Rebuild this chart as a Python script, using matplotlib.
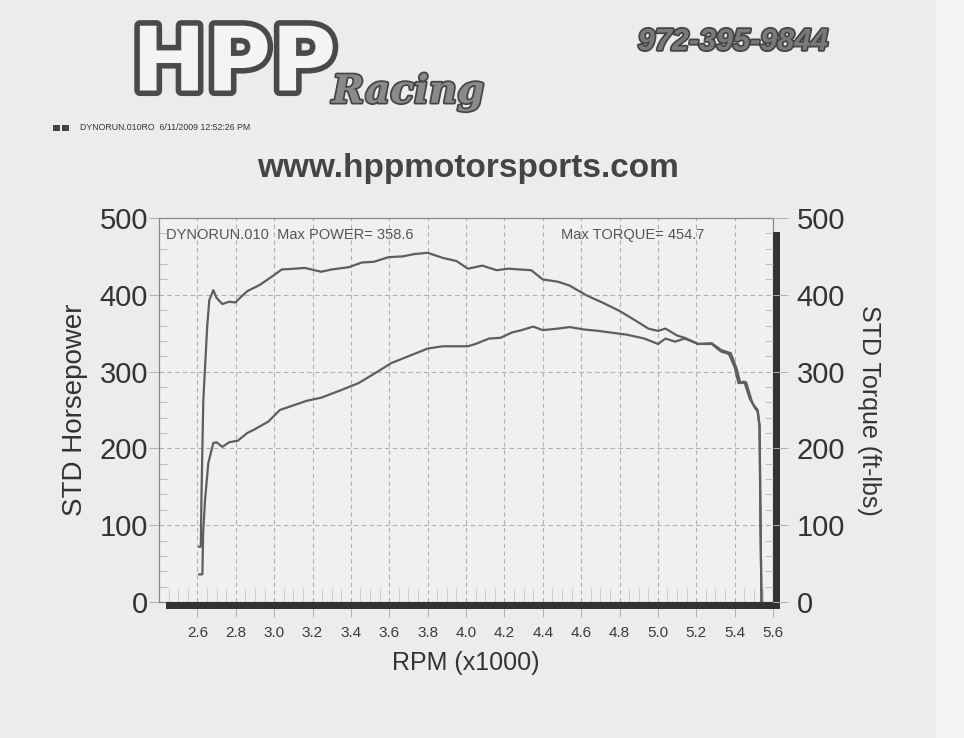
import numpy as np
import matplotlib
matplotlib.use("Agg")
import matplotlib.pyplot as plt
import matplotlib.patheffects as pe
from matplotlib.patches import Rectangle

# torque curve (ft-lbs) read from the dyno sheet
rpm_torque = [2.610, 2.618, 2.621, 2.631, 2.651, 2.662, 2.683, 2.700, 2.730, 2.766,
              2.798, 2.830, 2.862, 2.926, 2.990, 3.040, 3.106, 3.160, 3.245, 3.300,
              3.390, 3.457, 3.520, 3.596, 3.670, 3.730, 3.800, 3.820, 3.880, 3.950,
              4.010, 4.085, 4.160, 4.220, 4.280, 4.340, 4.400, 4.480, 4.540, 4.630,
              4.710, 4.800, 4.880, 4.950, 5.000, 5.040, 5.100, 5.140, 5.210, 5.280,
              5.330, 5.370, 5.400, 5.420, 5.450, 5.480, 5.500, 5.520, 5.530, 5.535, 5.540]
torque = [72, 72, 133, 263, 358, 393, 406, 396, 388, 391,
          390, 398, 405, 413, 424, 433, 434, 435, 430, 433,
          436, 442, 443, 449, 450, 453, 454.7, 453, 448, 444,
          434, 438, 432, 434, 433, 432, 420, 417, 412, 399,
          390, 379, 367, 356, 353, 356, 347, 344, 336, 336,
          326, 323, 306, 285, 287, 264, 256, 250, 230, 100, 0]

# horsepower curve
rpm_power = [2.610, 2.626, 2.630, 2.640, 2.657, 2.683, 2.700, 2.730, 2.766, 2.810,
             2.860, 2.900, 2.970, 3.030, 3.100, 3.170, 3.245, 3.350, 3.440, 3.520,
             3.610, 3.690, 3.800, 3.880, 3.970, 4.010, 4.050, 4.120, 4.180, 4.240,
             4.290, 4.350, 4.400, 4.480, 4.540, 4.610, 4.690, 4.780, 4.840, 4.930,
             5.000, 5.040, 5.090, 5.140, 5.210, 5.280, 5.330, 5.380, 5.410, 5.430,
             5.460, 5.490, 5.505, 5.520, 5.530, 5.535, 5.540]
power = [36, 36, 90, 133, 181, 207, 208, 202, 208, 210,
         220, 225, 235, 250, 256, 262, 266, 276, 285, 297,
         311, 319, 330, 333, 333, 333, 336, 343, 344, 351,
         354, 358.6, 354, 356, 358, 355, 353, 350, 348, 343,
         336, 343, 339, 343, 336, 337, 328, 324, 304, 285,
         286, 261, 253, 248, 228, 100, 0]

x_ticks = [2.6, 2.8, 3.0, 3.2, 3.4, 3.6, 3.8, 4.0, 4.2, 4.4, 4.6, 4.8, 5.0, 5.2, 5.4, 5.6]
y_ticks = [0, 100, 200, 300, 400, 500]

plt.rcParams['font.family'] = ['Liberation Sans', 'DejaVu Sans']

W, H = 964, 738
fig = plt.figure(figsize=(W / 100, H / 100), dpi=100, facecolor='#ececec')

def fx(x):
    return x / W

def fy(y):
    return 1 - y / H

# lighter strip at the right edge of the scan
fig.patches.append(Rectangle((fx(936), 0), 1 - fx(936), 1, transform=fig.transFigure,
                             facecolor='#f3f3f3', edgecolor='none', zorder=0))

ax = fig.add_axes([fx(159), fy(602), fx(773) - fx(159), fy(218) - fy(602)])
ax.set_facecolor('#f0f0f0')
ax.set_xlim(2.4, 5.6)
ax.set_ylim(0, 500)

line_col = '#5e5e5e'
ax.plot(rpm_torque, torque, color=line_col, lw=1.6, zorder=3)
ax.plot(rpm_power, power, color=line_col, lw=1.6, zorder=3)

ax.set_xticks(x_ticks)
ax.set_xticklabels(['%.1f' % v for v in x_ticks])
ax.set_yticks(y_ticks)
ax.set_xticks(np.arange(2.4, 5.6001, 0.05), minor=True)
ax.set_yticks(np.arange(0, 501, 20), minor=True)
ax.grid(which='major', ls=(0, (4, 3)), color='#b0b0b0', lw=0.8)
ax.tick_params(axis='x', which='major', direction='out', length=11, width=0.7,
               color='#b0b0b0', labelsize=11, labelcolor='#3a3a3a', pad=6)
ax.tick_params(axis='y', which='major', direction='out', length=7, width=0.7,
               color='#b0b0b0', labelsize=21, labelcolor='#333333', pad=1)
ax.tick_params(axis='x', which='minor', direction='in', length=10, width=0.5, color='#c0c0c0')
ax.tick_params(axis='y', which='minor', direction='in', length=6, width=0.6, color='#b5b5b5')
for s in ax.spines.values():
    s.set_color('#888888')
    s.set_linewidth(0.9)

ax2 = ax.twinx()
ax2.set_ylim(0, 500)
ax2.set_yticks(y_ticks)
ax2.set_yticks(np.arange(0, 501, 20), minor=True)
ax2.tick_params(axis='y', which='major', direction='out', length=11, width=0.7,
                color='#b0b0b0', labelsize=21, labelcolor='#333333', pad=6)
ax2.tick_params(axis='y', which='minor', direction='in', length=6, width=0.6, color='#b5b5b5')
for s in ax2.spines.values():
    s.set_visible(False)

# drop shadow of the plot frame
dx, dy = 7 / 614, 7 / 384
ax.add_patch(Rectangle((dx, -dy), 1, dy, transform=ax.transAxes, clip_on=False,
                       facecolor='#333333', edgecolor='none', zorder=5))
ax.add_patch(Rectangle((1, -dy), dx, 1 - dy + 0.001, transform=ax.transAxes, clip_on=False,
                       facecolor='#333333', edgecolor='none', zorder=5))

ax.set_xlabel('RPM (x1000)', fontsize=18, color='#333333', labelpad=8)
ax.set_ylabel('STD Horsepower', fontsize=20, color='#333333', labelpad=8)
ax2.set_ylabel('STD Torque (ft-lbs)', fontsize=18, color='#333333', rotation=-90, labelpad=26)

ax.text(0.012, 0.975, 'DYNORUN.010  Max POWER= 358.6', transform=ax.transAxes,
        ha='left', va='top', fontsize=10.5, color='#555555')
ax.text(0.655, 0.975, 'Max TORQUE= 454.7', transform=ax.transAxes,
        ha='left', va='top', fontsize=10.5, color='#555555')

# header
fig.text(fx(234), fy(66), 'HPP', ha='center', va='center', fontsize=64,
         fontweight='bold', family='DejaVu Sans', color='#f4f4f4',
         path_effects=[pe.Stroke(linewidth=8, foreground='#4a4a4a'), pe.Normal()])
fig.text(fx(408), fy(92), 'Racing', ha='center', va='center', fontsize=28,
         fontstyle='italic', fontweight='bold', family='DejaVu Serif', color='#8a8a8a',
         path_effects=[pe.Stroke(linewidth=2.5, foreground='#444444'), pe.Normal()])
fig.text(fx(733), fy(42), '972-395-9844', ha='center', va='center', fontsize=22,
         fontstyle='italic', fontweight='bold', color='#7a7a7a',
         path_effects=[pe.Stroke(linewidth=2.5, foreground='#444444'), pe.Normal()])

fig.patches.append(Rectangle((fx(53), fy(131)), fx(7), 6 / H, transform=fig.transFigure,
                             facecolor='#444444', edgecolor='none'))
fig.patches.append(Rectangle((fx(62), fy(131)), fx(7), 6 / H, transform=fig.transFigure,
                             facecolor='#444444', edgecolor='none'))
fig.text(fx(80), fy(128), 'DYNORUN.010RO  6/11/2009 12:52:26 PM', ha='left', va='center',
         fontsize=6.3, color='#333333')
fig.text(fx(468), fy(168), 'www.hppmotorsports.com', ha='center', va='center',
         fontsize=24, fontweight='bold', color='#444444')

fig.savefig('out.png', dpi=100, facecolor=fig.get_facecolor())
